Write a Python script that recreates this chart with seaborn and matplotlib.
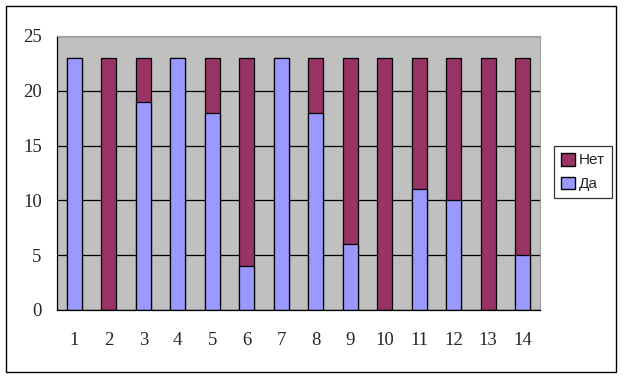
import matplotlib
matplotlib.use("Agg")
import matplotlib.pyplot as plt
import matplotlib.patches as mpatches
import seaborn as sns
import pandas as pd

categories = [str(i) for i in range(1, 15)]
da = [23, 0, 19, 23, 18, 4, 23, 18, 6, 0, 11, 10, 0, 5]
net = [0, 23, 4, 0, 5, 19, 0, 5, 17, 23, 12, 13, 23, 18]

df = pd.DataFrame({'Вопрос': categories, 'Да': da, 'Нет': net})
df['Всего'] = df['Да'] + df['Нет']

sns.set_style('white')
plt.rcParams['font.family'] = ['Liberation Serif', 'DejaVu Serif']

fig = plt.figure(figsize=(6.24, 3.79), dpi=100)
ax = fig.add_axes([57 / 624, 1 - 310 / 379, 483 / 624, 274 / 379])
ax.set_facecolor('#C0C0C0')
ax.set_axisbelow(True)

sns.barplot(data=df, x='Вопрос', y='Всего', color='#993366', width=0.44,
            edgecolor='black', linewidth=0.9, saturation=1, ax=ax)
sns.barplot(data=df, x='Вопрос', y='Да', color='#9999FF', width=0.44,
            edgecolor='black', linewidth=0.9, saturation=1, ax=ax)

ax.set_xlim(-0.5, len(categories) - 0.5)
ax.set_ylim(0, 25)
ax.set_yticks(range(0, 26, 5))
ax.yaxis.grid(True, color='black', linewidth=0.9)
ax.set_xlabel('')
ax.set_ylabel('')

ax.set_xticks(range(len(categories)))
ax.set_xticklabels(categories)
ax.set_xticks([i - 0.5 for i in range(len(categories) + 1)], minor=True)
ax.tick_params(axis='x', which='major', length=0, pad=16, labelsize=13.5)
ax.tick_params(axis='x', which='minor', length=5, width=0.9, color='black', direction='out')
ax.tick_params(axis='y', length=5, width=0.9, color='black', direction='out', pad=6, labelsize=13.5)

for side in ['left', 'bottom']:
    ax.spines[side].set_color('black')
    ax.spines[side].set_linewidth(0.9)
for side in ['top', 'right']:
    ax.spines[side].set_color('#A0A0A0')
    ax.spines[side].set_linewidth(0.8)

handles = [mpatches.Patch(facecolor='#993366', edgecolor='black', label='Нет'),
           mpatches.Patch(facecolor='#9999FF', edgecolor='black', label='Да')]
leg = fig.legend(handles=handles, loc='upper left', bbox_to_anchor=(554 / 624, 1 - 146 / 379),
                 prop={'family': 'Liberation Sans', 'size': 11}, frameon=True, fancybox=False,
                 edgecolor='black', handlelength=0.9, handleheight=0.9, handletextpad=0.3,
                 borderpad=0.45, labelspacing=0.6, borderaxespad=0)
leg.get_frame().set_linewidth(0.9)

fig.patches.append(mpatches.Rectangle((6 / 624, 7 / 379), 610 / 624, 366 / 379,
                                      transform=fig.transFigure, fill=False,
                                      edgecolor='black', linewidth=1))

fig.savefig('out.png', dpi=100, facecolor='white')
